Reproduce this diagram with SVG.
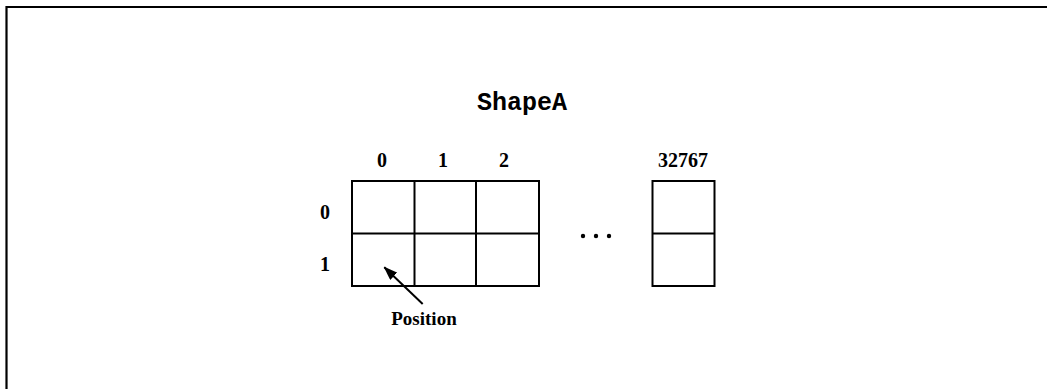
<svg xmlns="http://www.w3.org/2000/svg" width="1047" height="389" viewBox="0 0 1047 389">
<style>
.lbl{font-family:"Liberation Serif",serif;font-weight:bold;font-size:20px;fill:#000}
.cell{fill:none;stroke:#000;stroke-width:2}
</style>
<defs>
<marker id="ah" markerWidth="14" markerHeight="10" refX="13" refY="5" orient="auto" markerUnits="userSpaceOnUse">
<path d="M0,0 L14,5 L0,10 Z" fill="#000"/>
</marker>
</defs>
<rect width="1047" height="389" fill="#fff"/>
<path d="M6.5,389 V7 H1047" fill="none" stroke="#000" stroke-width="2.2"/>
<g id="title">
<text x="522" y="110" text-anchor="middle" style="font-family:'Liberation Mono',monospace;font-weight:bold;font-size:25px">ShapeA</text>
</g>
<g id="col-labels">
<text class="lbl" x="382" y="167" text-anchor="middle">0</text>
<text class="lbl" x="443" y="167" text-anchor="middle">1</text>
<text class="lbl" x="504" y="167" text-anchor="middle">2</text>
<text class="lbl" x="683" y="167" text-anchor="middle">32767</text>
</g>
<g id="row-labels">
<text class="lbl" x="325" y="219" text-anchor="middle">0</text>
<text class="lbl" x="325" y="271" text-anchor="middle">1</text>
</g>
<g id="grid">
<rect class="cell" x="352" y="181" width="187" height="105"/>
<line class="cell" x1="414.5" y1="181" x2="414.5" y2="286"/>
<line class="cell" x1="476" y1="181" x2="476" y2="286"/>
<line class="cell" x1="352" y1="233.5" x2="539" y2="233.5"/>
</g>
<g id="last-column">
<rect class="cell" x="652.5" y="181" width="62" height="105"/>
<line class="cell" x1="652.5" y1="233.5" x2="714.5" y2="233.5"/>
</g>
<g id="ellipsis">
<circle cx="583" cy="236" r="2.2"/>
<circle cx="596" cy="236" r="2.2"/>
<circle cx="609" cy="236" r="2.2"/>
</g>
<g id="connectors">
<line x1="422.7" y1="304" x2="384.3" y2="267.3" stroke="#000" stroke-width="2" marker-end="url(#ah)"/>
</g>
<g id="position">
<text class="lbl" x="424" y="325" text-anchor="middle" style="font-size:19px">Position</text>
</g>
</svg>
